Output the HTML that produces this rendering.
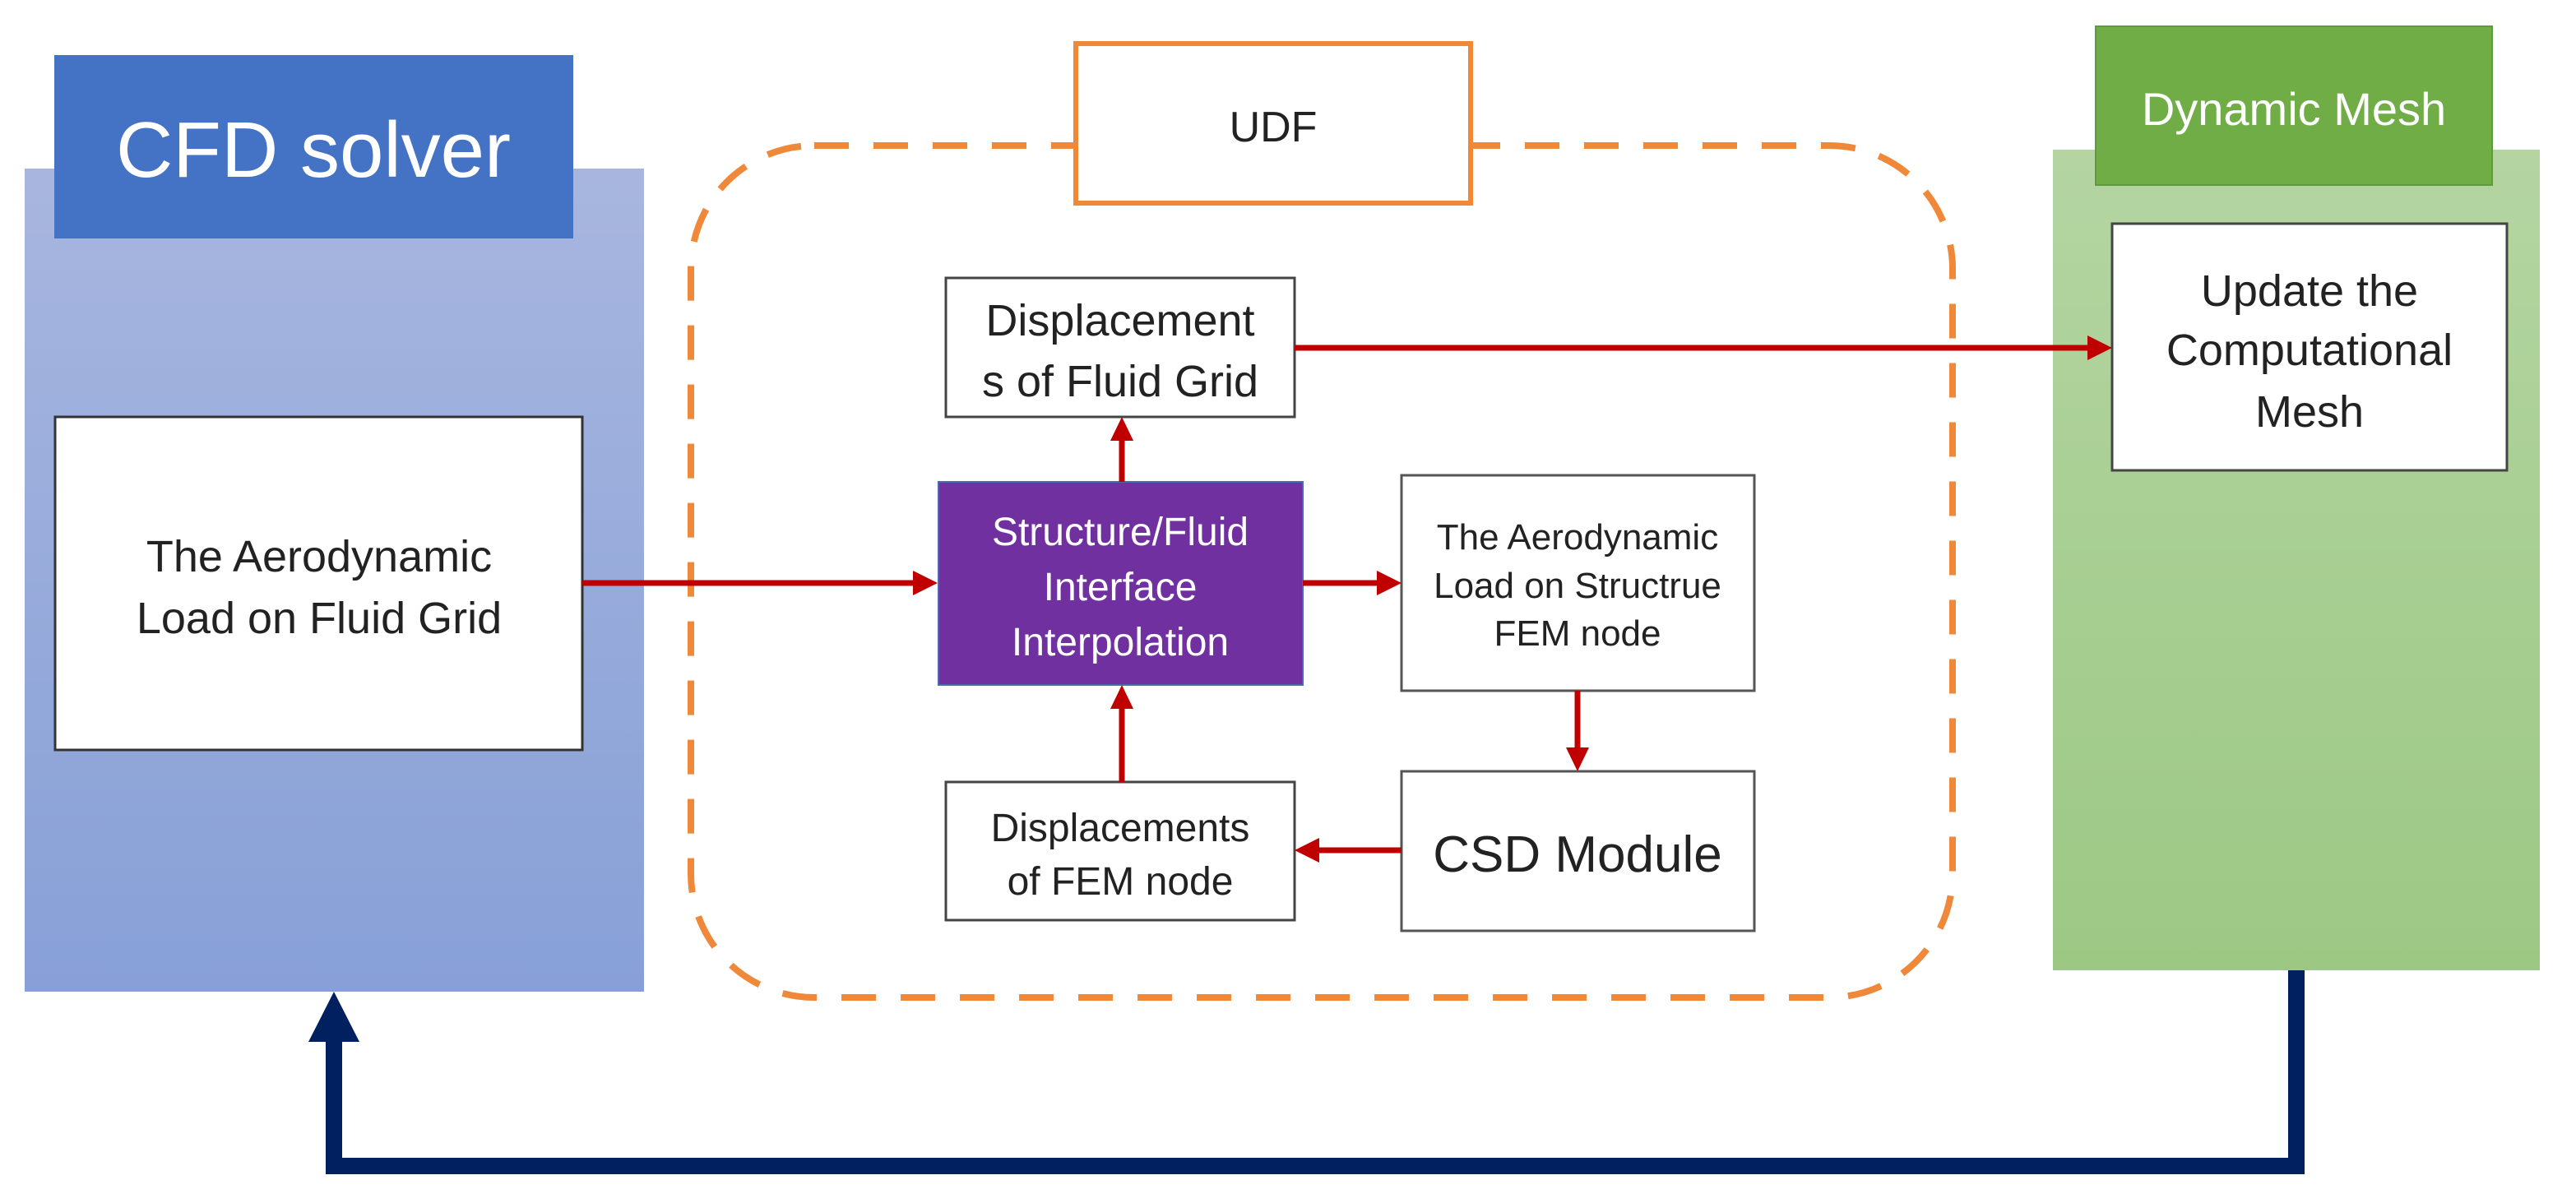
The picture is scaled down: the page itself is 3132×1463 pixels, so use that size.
<!DOCTYPE html>
<html><head><meta charset="utf-8"><style>
html,body{margin:0;padding:0;background:#fff}
svg{display:block}
text{font-family:"Liberation Sans","DejaVu Sans",sans-serif}
</style></head><body>
<svg width="3132" height="1463" viewBox="0 0 3132 1463" xmlns="http://www.w3.org/2000/svg">
<defs>
<linearGradient id="gb" x1="0" y1="0" x2="0" y2="1"><stop offset="0" stop-color="#a8b6df"/><stop offset="1" stop-color="#87a0d7"/></linearGradient>
<linearGradient id="gg" x1="0" y1="0" x2="0" y2="1"><stop offset="0" stop-color="#b4d5a2"/><stop offset="1" stop-color="#9cc884"/></linearGradient>
</defs>
<!-- CFD panel -->
<rect x="30" y="205" width="753" height="1001" fill="url(#gb)"/>
<rect x="66" y="67" width="631" height="223" fill="#4472c4"/>
<text x="381" y="215" font-size="96" fill="#fff" text-anchor="middle">CFD solver</text>
<rect x="67" y="507" width="641" height="405" fill="#fff" stroke="#333" stroke-width="3"/>
<text x="388" y="695" font-size="54" fill="#222" text-anchor="middle">The Aerodynamic</text>
<text x="388" y="770" font-size="54" fill="#222" text-anchor="middle">Load on Fluid Grid</text>
<!-- green panel -->
<rect x="2496" y="182" width="592" height="998" fill="url(#gg)"/>
<rect x="2548" y="32" width="482" height="193" fill="#70ad47" stroke="#5f9a3c" stroke-width="2"/>
<text x="2789" y="152" font-size="56" fill="#fff" text-anchor="middle">Dynamic Mesh</text>
<rect x="2568" y="272" width="480" height="300" fill="#fff" stroke="#444" stroke-width="3"/>
<text x="2808" y="372" font-size="54" fill="#222" text-anchor="middle">Update the</text>
<text x="2808" y="444" font-size="54" fill="#222" text-anchor="middle">Computational</text>
<text x="2808" y="519" font-size="54" fill="#222" text-anchor="middle">Mesh</text>
<!-- dashed region -->
<rect x="840" y="177" width="1534" height="1036" rx="150" ry="150" fill="none" stroke="#f0883a" stroke-width="8" stroke-dasharray="42 30"/>
<rect x="1308" y="53" width="480" height="194" fill="#fff" stroke="#f0883a" stroke-width="6"/>
<text x="1548" y="172" font-size="52" fill="#222" text-anchor="middle">UDF</text>
<!-- inner boxes -->
<rect x="1150" y="338" width="424" height="169" fill="#fff" stroke="#444" stroke-width="3"/>
<text x="1362" y="408" font-size="54" fill="#222" text-anchor="middle">Displacement</text>
<text x="1362" y="482" font-size="54" fill="#222" text-anchor="middle">s of Fluid Grid</text>
<rect x="1141" y="586" width="443" height="247" fill="#7030a0" stroke="#4a6ab0" stroke-width="2"/>
<text x="1362" y="663" font-size="48" fill="#fff" text-anchor="middle">Structure/Fluid</text>
<text x="1362" y="730" font-size="48" fill="#fff" text-anchor="middle">Interface</text>
<text x="1362" y="797" font-size="48" fill="#fff" text-anchor="middle">Interpolation</text>
<rect x="1150" y="951" width="424" height="168" fill="#fff" stroke="#444" stroke-width="3"/>
<text x="1362" y="1023" font-size="48" fill="#222" text-anchor="middle">Displacements</text>
<text x="1362" y="1088" font-size="48" fill="#222" text-anchor="middle">of FEM node</text>
<rect x="1704" y="578" width="429" height="262" fill="#fff" stroke="#555" stroke-width="3"/>
<text x="1918" y="668" font-size="44" fill="#222" text-anchor="middle">The Aerodynamic</text>
<text x="1918" y="727" font-size="44" fill="#222" text-anchor="middle">Load on Structrue</text>
<text x="1918" y="785" font-size="44" fill="#222" text-anchor="middle">FEM node</text>
<rect x="1704" y="938" width="429" height="194" fill="#fff" stroke="#555" stroke-width="3"/>
<text x="1918" y="1060" font-size="62" fill="#222" text-anchor="middle">CSD Module</text>
<!-- red arrows -->
<g stroke="#c00000" stroke-width="7" fill="#c00000">
<line x1="708" y1="709" x2="1112" y2="709"/>
<polygon points="1140,709 1110,694 1110,724" stroke="none"/>
<line x1="1574" y1="423" x2="2540" y2="423"/>
<polygon points="2568,423 2538,408 2538,438" stroke="none"/>
<line x1="1364" y1="586" x2="1364" y2="532"/>
<polygon points="1364,507 1350,536 1378,536" stroke="none"/>
<line x1="1364" y1="951" x2="1364" y2="858"/>
<polygon points="1364,833 1350,862 1378,862" stroke="none"/>
<line x1="1584" y1="709" x2="1678" y2="709"/>
<polygon points="1704,709 1674,694 1674,724" stroke="none"/>
<line x1="1918" y1="840" x2="1918" y2="912"/>
<polygon points="1918,938 1904,909 1932,909" stroke="none"/>
<line x1="1704" y1="1034" x2="1600" y2="1034"/>
<polygon points="1574,1034 1604,1019 1604,1049" stroke="none"/>
</g>
<!-- navy loop -->
<polyline points="2792,1180 2792,1418 406,1418 406,1262" fill="none" stroke="#002060" stroke-width="20"/>
<polygon points="406,1206 375,1267 437,1267" fill="#002060"/>
</svg>
</body></html>
